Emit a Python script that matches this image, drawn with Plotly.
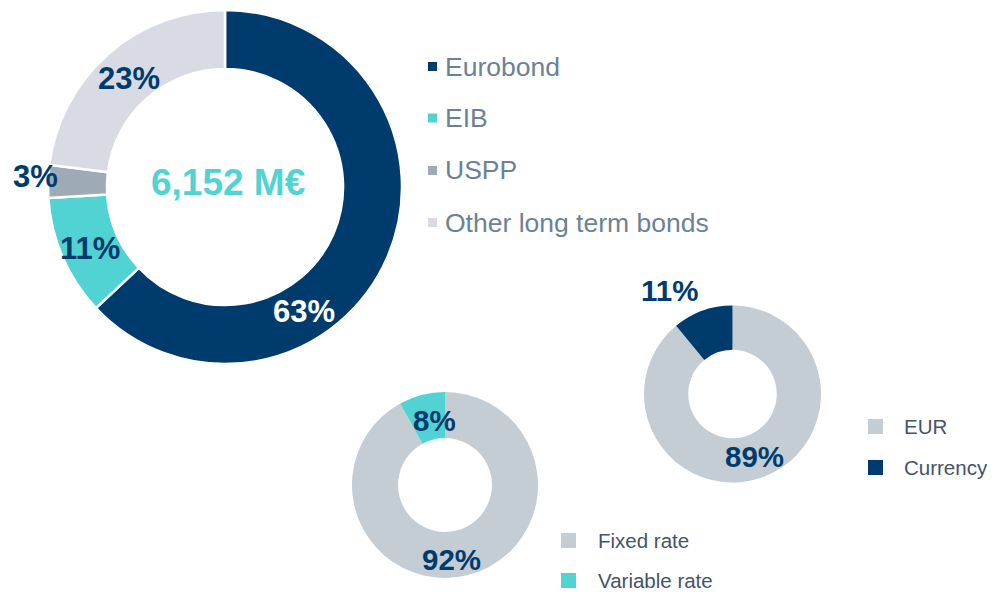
import plotly.graph_objects as go

# the page body has an 8px margin, so the figure is drawn 8px in from the corner
OFF = 8
W, H = 995 - OFF, 592 - OFF

# debt by instrument
instr_labels = ["Eurobond", "EIB", "USPP", "Other long term bonds"]
instr_values = [63, 11, 3, 23]
instr_colors = ["#003b6e", "#52d3d3", "#9eaab5", "#d8dbe4"]
total_label = "6,152 M€"

# currency split
ccy_labels = ["EUR", "Currency"]
ccy_values = [89, 11]
ccy_colors = ["#c4ccd4", "#003b6e"]

# rate split
rate_labels = ["Fixed rate", "Variable rate"]
rate_values = [92, 8]
rate_colors = ["#c4ccd4", "#52d3d3"]

FONT = "Arial, Liberation Sans, sans-serif"
DARK = "#003b6e"


def px(x, y):
    # page pixels -> paper fraction
    return (x - OFF) / W, 1 - (y - OFF) / H


def box(cx, cy, r):
    x0, y1 = px(cx - r, cy - r)
    x1, y0 = px(cx + r, cy + r)
    return dict(x=[x0, x1], y=[y0, y1])


def pct(values, i):
    return f"{round(100 * values[i] / sum(values))}%"


fig = go.Figure()

fig.add_trace(go.Pie(
    labels=instr_labels, values=instr_values, hole=0.667,
    sort=False, direction="clockwise", rotation=0,
    marker=dict(colors=instr_colors, line=dict(color="white", width=2.5)),
    textinfo="none", hoverinfo="label+percent", showlegend=False,
    domain=box(225, 187, 177),
))
fig.add_trace(go.Pie(
    labels=ccy_labels, values=ccy_values, hole=0.5,
    sort=False, direction="clockwise", rotation=0,
    marker=dict(colors=ccy_colors, line=dict(width=0)),
    textinfo="none", hoverinfo="label+percent", showlegend=False,
    domain=box(732.5, 394, 88.5),
))
fig.add_trace(go.Pie(
    labels=rate_labels, values=rate_values, hole=0.505,
    sort=False, direction="clockwise", rotation=0,
    marker=dict(colors=rate_colors, line=dict(width=0)),
    textinfo="none", hoverinfo="label+percent", showlegend=False,
    domain=box(445, 485, 93),
))

annotations = []


def label(text, x, y, size, color=DARK, bold=True, xanchor="center"):
    ax, ay = px(x, y)
    annotations.append(dict(
        text=f"<b>{text}</b>" if bold else text,
        x=ax, y=ay, xref="paper", yref="paper",
        xanchor=xanchor, yanchor="middle", showarrow=False,
        font=dict(family=FONT, size=size, color=color),
    ))


# slice percentages
label(pct(instr_values, 0), 304, 311, 31, color="white")
label(pct(instr_values, 1), 90, 248, 31)
label(pct(instr_values, 2), 35, 176, 31)
label(pct(instr_values, 3), 129, 78, 31)
label(total_label, 228, 183, 37, color="#52d3d3")

label(pct(ccy_values, 0), 754, 456, 29.5)
label(pct(ccy_values, 1), 669, 290, 29.5)
label(pct(rate_values, 0), 451, 559, 29.5)
label(pct(rate_values, 1), 434, 420, 29.5)

# legends
shapes = []


def legend(labels, colors, sq_x, sq_size, ys, text_x, size, color):
    for lab, col, y in zip(labels, colors, ys):
        x0, y0 = px(sq_x, y + sq_size / 2)
        x1, y1 = px(sq_x + sq_size, y - sq_size / 2)
        shapes.append(dict(type="rect", xref="paper", yref="paper",
                           x0=x0, x1=x1, y0=y0, y1=y1,
                           fillcolor=col, line=dict(width=0)))
        label(lab, text_x, y, size, color=color, bold=False, xanchor="left")


legend(instr_labels, instr_colors, 428, 9, [66.5, 118, 170.5, 222.5], 443, 26.5, "#6b8295")
legend(ccy_labels, ccy_colors, 868, 15, [426.5, 467.5], 902, 20.5, "#44546a")
legend(rate_labels, rate_colors, 561, 15, [540.5, 580.5], 596, 20.5, "#44546a")

fig.update_layout(
    width=W, height=H,
    margin=dict(l=0, r=0, t=0, b=0),
    paper_bgcolor="white", plot_bgcolor="white",
    annotations=annotations, shapes=shapes,
    showlegend=False,
)

fig.write_html("out.html")
